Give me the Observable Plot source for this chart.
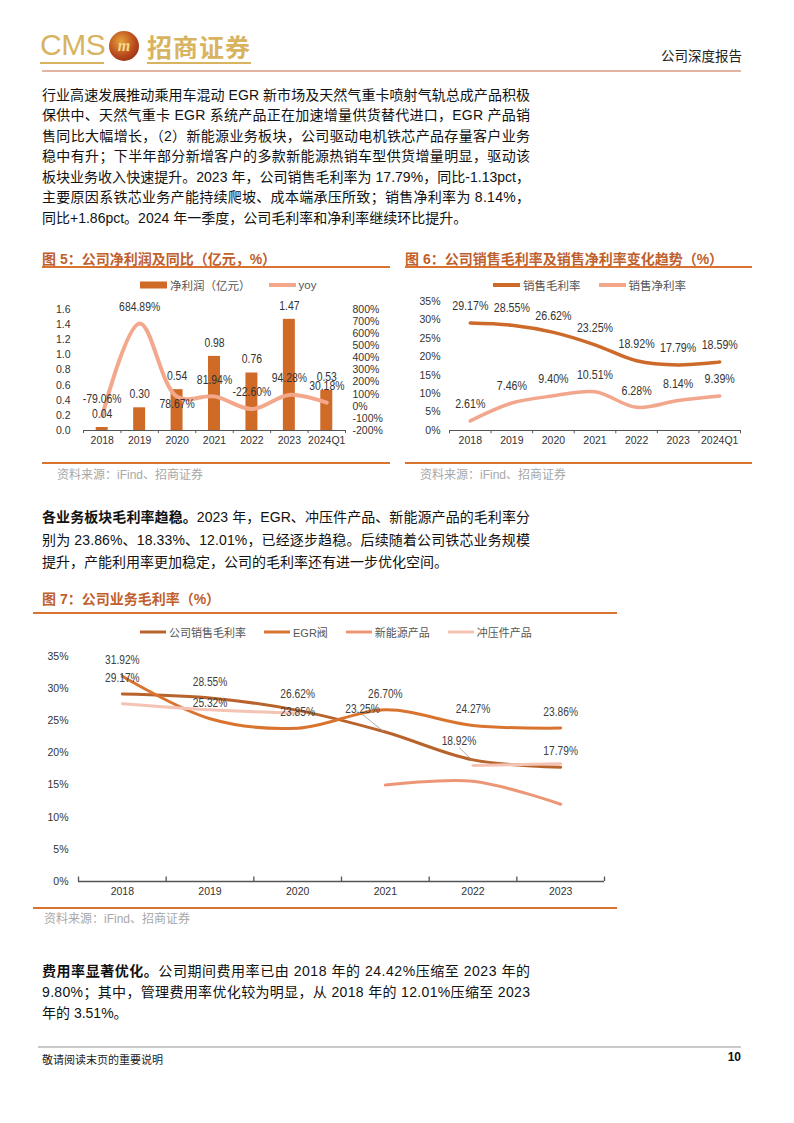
<!DOCTYPE html>
<html><head><meta charset="utf-8">
<script src="https://cdn.jsdelivr.net/npm/d3@7"></script>
<script src="https://cdn.jsdelivr.net/npm/@observablehq/plot@0.6"></script>
<style>
html,body{margin:0;padding:0;background:#fff}
body{width:794px;height:1123px;position:relative;overflow:hidden;font-family:"Liberation Sans",Arial,"Noto Sans CJK SC",sans-serif;color:#111}
.abs{position:absolute}
.para{position:absolute;left:42px;width:488px;font-size:14px}
.ln{white-space:nowrap;width:488px}
.ln span{white-space:nowrap}
b{font-weight:700}
.ctitle{position:absolute;font-size:14px;font-weight:700;color:#c0602d;white-space:nowrap;font-family:"Liberation Sans","Noto Sans CJK SC",sans-serif}
.crule{position:absolute;height:2px;background:#d8742f}
.src{position:absolute;font-size:12px;color:#a8a8a8;white-space:nowrap}
.legend{position:absolute;display:flex;align-items:center;font-size:11.5px;color:#555;white-space:nowrap;gap:18px;height:14px}
.legend .it{display:flex;align-items:center;gap:3px}
.chart{position:absolute}
</style></head>
<body>
<script>
// ---------------- DATA ----------------
const years5 = ["2018","2019","2020","2021","2022","2023","2024Q1"];
const netProfit = [0.04, 0.30, 0.54, 0.98, 0.76, 1.47, 0.53];          // 亿元
const netProfitYoy = [-79.06, 684.89, 78.67, 81.94, -22.60, 94.28, 30.18]; // %
const profitTicks = [0, 0.2, 0.4, 0.6, 0.8, 1.0, 1.2, 1.4, 1.6];
const yoyTicks = [-200, -100, 0, 100, 200, 300, 400, 500, 600, 700, 800];

const years6 = ["2018","2019","2020","2021","2022","2023","2024Q1"];
const grossMargin = [29.17, 28.55, 26.62, 23.25, 18.92, 17.79, 18.59];
const netMargin = [2.61, 7.46, 9.40, 10.51, 6.28, 8.14, 9.39];
const marginTicks = [0, 5, 10, 15, 20, 25, 30, 35];

const years7 = ["2018","2019","2020","2021","2022","2023"];
const segNames = ["公司销售毛利率", "EGR阀", "新能源产品", "冲压件产品"];
const companyGM = [29.17, 28.55, 26.62, 23.25, 18.92, 17.79];
const egrGM = [31.92, 25.32, 23.85, 26.70, 24.27, 23.86];
const nevGM = [null, null, null, 15.0, 15.6, 12.01];
const stampGM = [27.65, 26.7, 26.2, null, 18.06, 18.33];
const segTicks = [0, 5, 10, 15, 20, 25, 30, 35];

const legend5 = ["净利润（亿元）", "yoy"];
const legend6 = ["销售毛利率", "销售净利率"];
</script>

<!-- Header -->
<div class="abs" style="left:40px;top:29px;font-size:30px;color:#d8b460;font-family:'Liberation Sans',Arial;letter-spacing:-0.5px;line-height:32px">CMS</div>
<div class="abs" style="left:40px;top:62px;width:64px;height:2px;background:#d8b460"></div>
<div class="abs" style="left:109px;top:31px;width:30px;height:30px;border-radius:50%;background:radial-gradient(circle at 40% 35%,#e7a23a 0%,#b8481c 55%,#7a2410 100%);color:#f6d98a;font:bold 16px 'Liberation Serif',serif;text-align:center;line-height:29px;font-style:italic">m</div>
<div class="abs" style="left:147px;top:30px;font-size:25px;color:#d8b460;font-family:'Noto Sans CJK SC';font-weight:700;line-height:32px;letter-spacing:1px">招商证券</div>
<div class="abs" style="left:147px;top:62px;width:104px;height:2px;background:#d8b460"></div>
<div class="abs" style="left:42px;top:70px;width:699px;height:2px;background:#e3b4a3"></div>
<div class="abs" style="right:52px;top:45px;font-size:13.5px;color:#222;font-family:'Noto Sans CJK SC'">公司深度报告</div>

<!-- Paragraph 1 -->
<div class="para" style="top:84.75px;line-height:20.5px">
<div class="ln j"><span>行业高速发展推动乘用车混动 EGR 新市场及天然气重卡喷射气轨总成产品积极</span></div>
<div class="ln j"><span>保供中、天然气重卡 EGR 系统产品正在加速增量供货替代进口，EGR 产品销</span></div>
<div class="ln j"><span>售同比大幅增长，（2）新能源业务板块，公司驱动电机铁芯产品存量客户业务</span></div>
<div class="ln j"><span>稳中有升；下半年部分新增客户的多款新能源热销车型供货增量明显，驱动该</span></div>
<div class="ln j"><span>板块业务收入快速提升。2023 年，公司销售毛利率为 17.79%，同比-1.13pct，</span></div>
<div class="ln j"><span>主要原因系铁芯业务产能持续爬坡、成本端承压所致；销售净利率为 8.14%，</span></div>
<div class="ln"><span>同比+1.86pct。2024 年一季度，公司毛利率和净利率继续环比提升。</span></div>
</div>

<!-- Chart 5 & 6 frames -->
<div class="ctitle" style="left:42px;top:248px">图 5：公司净利润及同比（亿元，%）</div>
<div class="crule" style="left:42px;top:266px;width:348px"></div>
<div class="legend" id="lg5" style="left:140px;top:278px"></div>
<div class="chart" id="c5" style="left:30px;top:295px"></div>
<div class="crule" style="left:42px;top:462px;width:348px"></div>
<div class="src" style="left:57px;top:465px">资料来源：iFind、招商证券</div>

<div class="ctitle" style="left:405px;top:248px">图 6：公司销售毛利率及销售净利率变化趋势（%）</div>
<div class="crule" style="left:405px;top:266px;width:347px"></div>
<div class="legend" id="lg6" style="left:493px;top:278px"></div>
<div class="chart" id="c6" style="left:400px;top:295px"></div>
<div class="crule" style="left:405px;top:462px;width:347px"></div>
<div class="src" style="left:420px;top:465px">资料来源：iFind、招商证券</div>

<!-- Paragraph 2 -->
<div class="para" style="top:506px;line-height:22.5px">
<div class="ln j"><span><b>各业务板块毛利率趋稳。</b>2023 年，EGR、冲压件产品、新能源产品的毛利率分</span></div>
<div class="ln j"><span>别为 23.86%、18.33%、12.01%，已经逐步趋稳。后续随着公司铁芯业务规模</span></div>
<div class="ln"><span>提升，产能利用率更加稳定，公司的毛利率还有进一步优化空间。</span></div>
</div>

<!-- Chart 7 -->
<div class="ctitle" style="left:42px;top:588px">图 7：公司业务毛利率（%）</div>
<div class="crule" style="left:33px;top:612px;width:584px"></div>
<div class="legend" id="lg7" style="left:140px;top:625px;font-size:11px"></div>
<div class="chart" id="c7" style="left:30px;top:645px"></div>
<div class="crule" style="left:33px;top:907px;width:584px"></div>
<div class="src" style="left:44px;top:909px">资料来源：iFind、招商证券</div>

<!-- Paragraph 3 -->
<div class="para" style="top:960.5px;line-height:21px">
<div class="ln j"><span><b>费用率显著优化。</b>公司期间费用率已由 2018 年的 24.42%压缩至 2023 年的</span></div>
<div class="ln j"><span>9.80%；其中，管理费用率优化较为明显，从 2018 年的 12.01%压缩至 2023</span></div>
<div class="ln"><span>年的 3.51%。</span></div>
</div>

<!-- Footer -->
<div class="abs" style="left:38px;top:1046px;width:703px;height:1.5px;background:#c9c9c9"></div>
<div class="abs" style="left:42px;top:1051px;font-size:11px;color:#222;font-family:'Noto Sans CJK SC'">敬请阅读末页的重要说明</div>
<div class="abs" style="right:53px;top:1050px;font-size:12px;font-weight:700;color:#111">10</div>

<script>
// justify lines
document.querySelectorAll(".ln.j span").forEach(sp => {
  const w = sp.getBoundingClientRect().width;
  const n = [...sp.textContent].length;
  const ls = (488 - w) / (n - 1);
  sp.style.letterSpacing = ls + "px";
});

const FONT = '"Liberation Sans", Arial, "Noto Sans CJK SC", sans-serif';
const baseStyle = {fontFamily: FONT, fontSize: "10.5px", color: "#333", background: "transparent", overflow: "visible"};

// condense data labels (reference uses a narrow face)
function condense(svg, factor) {
  svg.querySelectorAll('g[aria-label="text"] text').forEach(t => {
    const w = t.getComputedTextLength();
    t.setAttribute("textLength", (w * factor).toFixed(2));
    t.setAttribute("lengthAdjust", "spacingAndGlyphs");
  });
}

function legend(el, items) {
  const box = document.getElementById(el);
  items.forEach(it => {
    const d = document.createElement("div");
    d.className = "it";
    const sw = it.type === "rect"
      ? `<svg width="27" height="8"><rect x="0" y="0.5" width="27" height="7" fill="${it.color}"/></svg>`
      : `<svg width="${it.w||27}" height="8"><line x1="0" x2="${it.w||27}" y1="4" y2="4" stroke="${it.color}" stroke-width="${it.sw||4}"/></svg>`;
    d.innerHTML = sw + `<span>${it.label}</span>`;
    box.appendChild(d);
  });
}

// ---------- Chart 5 ----------
{
  const yMin = yoyTicks[0], yMax = yoyTicks[yoyTicks.length - 1];
  const pMax = profitTicks[profitTicks.length - 1];
  const toY = v => (v - yMin) / (yMax - yMin) * pMax;
  const data = years5.map((year, i) => ({i, year, profit: netProfit[i], yoy: netProfitYoy[i], yy: toY(netProfitYoy[i])}));
  const bounds = d3.range(-0.5, years5.length, 1);
  const below = d => d.year === "2020"; // this yoy label sits under its point in the reference
  const lbl = {fontSize: 13, fill: "#333"};
  const chart = Plot.plot({
    width: 370, height: 160, marginLeft: 53, marginRight: 55, marginTop: 14, marginBottom: 25,
    style: baseStyle,
    x: {domain: [-0.5, years5.length - 0.5], axis: null},
    y: {domain: [0, pMax], axis: null},
    marks: [
      Plot.axisY({ticks: profitTicks, tickFormat: d => d.toFixed(1), tickSize: 0, tickPadding: 13, anchor: "left", label: null}),
      Plot.axisY({ticks: yoyTicks.map(toY), tickFormat: d => Math.round(d / pMax * (yMax - yMin) + yMin) + "%", tickSize: 0, tickPadding: 7, anchor: "right", label: null}),
      Plot.rectY(data, {x1: d => d.i - 0.16, x2: d => d.i + 0.16, y: "profit", fill: "#d06a27"}),
      Plot.ruleY([0], {stroke: "#555"}),
      Plot.ruleX(bounds, {y1: 0, y2: -0.04, stroke: "#555"}),
      Plot.axisX({ticks: data.map(d => d.i), tickFormat: i => years5[i], tickSize: 0, tickPadding: 6, label: null}),
      Plot.line(data, {x: "i", y: "yy", stroke: "#f3a88c", strokeWidth: 4, curve: "catmull-rom"}),
      Plot.text(data, {x: "i", y: "profit", text: d => d.profit.toFixed(2), dy: -14, ...lbl}),
      Plot.text(data.filter(d => !below(d)), {x: "i", y: "yy", text: d => d.yoy.toFixed(2) + "%", dy: -17, ...lbl}),
      Plot.text(data.filter(below), {x: "i", y: "yy", text: d => d.yoy.toFixed(2) + "%", dy: 7, ...lbl})
    ]
  });
  document.getElementById("c5").appendChild(chart);
  condense(chart, 0.8);
  legend("lg5", [{label: legend5[0], type: "rect", color: "#d06a27"}, {label: legend5[1], type: "line", color: "#f3a88c"}]);
}

// ---------- Chart 6 ----------
{
  const data = years6.map((year, i) => ({i, year, g: grossMargin[i], n: netMargin[i]}));
  const bounds = d3.range(-0.5, years6.length, 1);
  const lbl = {dy: -17, fontSize: 13, fill: "#333"};
  const chart = Plot.plot({
    width: 370, height: 160, marginLeft: 49, marginRight: 30, marginTop: 6, marginBottom: 25,
    style: baseStyle,
    x: {domain: [-0.5, years6.length - 0.5], axis: null},
    y: {domain: [0, marginTicks[marginTicks.length - 1]], axis: null},
    marks: [
      Plot.axisY({ticks: marginTicks, tickFormat: d => d + "%", tickSize: 0, tickPadding: 9, anchor: "left", label: null}),
      Plot.ruleY([0], {stroke: "#555"}),
      Plot.ruleX(bounds, {y1: 0, y2: -0.9, stroke: "#555"}),
      Plot.axisX({ticks: data.map(d => d.i), tickFormat: i => years6[i], tickSize: 0, tickPadding: 6, label: null}),
      Plot.line(data, {x: "i", y: "g", stroke: "#cd6a2a", strokeWidth: 3.5, curve: "catmull-rom"}),
      Plot.line(data, {x: "i", y: "n", stroke: "#f2a68b", strokeWidth: 3.5, curve: "catmull-rom"}),
      Plot.text(data, {x: "i", y: "g", text: d => d.g.toFixed(2) + "%", ...lbl}),
      Plot.text(data, {x: "i", y: "n", text: d => d.n.toFixed(2) + "%", ...lbl})
    ]
  });
  document.getElementById("c6").appendChild(chart);
  condense(chart, 0.82);
  legend("lg6", [{label: legend6[0], type: "line", color: "#cd6a2a"}, {label: legend6[1], type: "line", color: "#f2a68b"}]);
}

// ---------- Chart 7 ----------
{
  const data = years7.map((year, i) => ({i, year, company: companyGM[i], egr: egrGM[i], nev: nevGM[i], stamp: stampGM[i]}));
  const bounds = d3.range(-0.5, years7.length, 1);
  const colors = ["#b8632c", "#d9742f", "#ec9676", "#f4c3b3"];
  const keys = ["company", "egr", "nev", "stamp"];
  const lbl = {fontSize: 12, fill: "#404040"};
  const fmt = v => v.toFixed(2) + "%";
  // company labels pulled aside with a leader line where the lines cross
  const leader = d => d.i === 3 || d.i === 4;
  const leadOff = {3: {x: -0.26, y: 2.7}, 4: {x: -0.16, y: 1.95}};
  const chart = Plot.plot({
    width: 600, height: 260, marginLeft: 48, marginRight: 26, marginTop: 11, marginBottom: 24,
    style: baseStyle,
    x: {domain: [-0.5, years7.length - 0.5], axis: null},
    y: {domain: [0, segTicks[segTicks.length - 1]], axis: null},
    marks: [
      Plot.axisY({ticks: segTicks, tickFormat: d => d + "%", tickSize: 0, tickPadding: 10, anchor: "left", label: null}),
      Plot.ruleY([0], {stroke: "#555", strokeWidth: 1.3}),
      Plot.ruleX(bounds, {y1: 0, y2: 0.7, stroke: "#555", strokeWidth: 1.3}),
      Plot.axisX({ticks: data.map(d => d.i), tickFormat: i => years7[i], tickSize: 0, tickPadding: 6, label: null}),
      ...keys.map((k, j) => Plot.line(data, {x: "i", y: k, stroke: colors[j], strokeWidth: 3, curve: "catmull-rom"})),
      Plot.link(data.filter(leader), {x1: d => d.i + leadOff[d.i].x, y1: d => d.company + leadOff[d.i].y, x2: d => d.i - 0.02, y2: d => d.company + 0.1, stroke: "#999", strokeWidth: 0.8}),
      Plot.text(data.filter(d => !leader(d)), {x: "i", y: "company", text: d => fmt(d.company), dy: -16, ...lbl}),
      Plot.text(data.filter(leader), {x: d => d.i + leadOff[d.i].x, y: d => d.company + leadOff[d.i].y, text: d => fmt(d.company), dy: -6, ...lbl}),
      Plot.text(data, {x: "i", y: "egr", text: d => fmt(d.egr), dy: -16, ...lbl})
    ]
  });
  document.getElementById("c7").appendChild(chart);
  condense(chart, 0.85);
  legend("lg7", segNames.map((s, j) => ({label: s, type: "line", color: colors[j], sw: 3, w: 26})));
}
</script>
</body></html>
